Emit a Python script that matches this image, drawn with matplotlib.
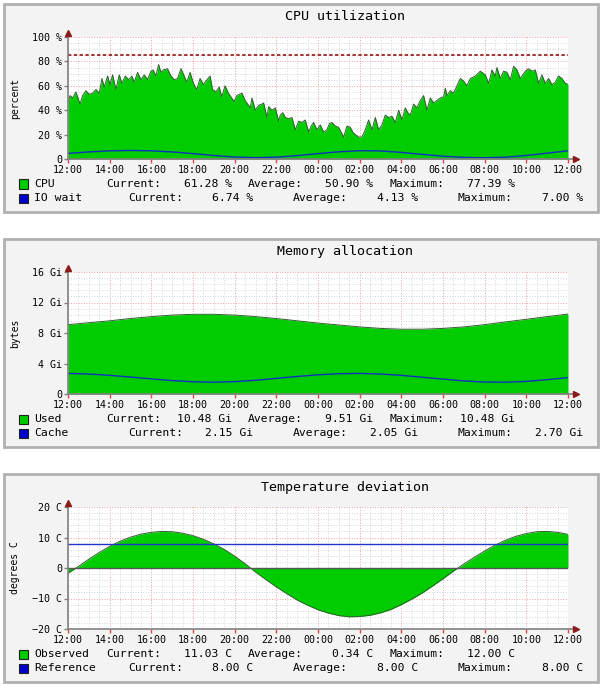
#!/usr/bin/env python3
"""plot.py: three rrdtool style graphs (cpu, memory, temperature)."""

import matplotlib
matplotlib.use('Agg')
import matplotlib.pyplot as plt
from matplotlib.patches import Rectangle
import numpy as np

W, H = 605, 690
FONT = 'DejaVu Sans Mono'
GREEN = '#00cc00'
BLUE = '#0000cc'

HOUR_LABELS = ['12:00', '14:00', '16:00', '18:00', '20:00', '22:00', '00:00',
               '02:00', '04:00', '06:00', '08:00', '10:00', '12:00']

# cpu samples, hours after 12:00
CPU_HOURS = [0.00, 0.10, 0.22, 0.38, 0.58, 0.70, 0.86, 1.02, 1.18, 1.34, 1.50,
             1.63, 1.74, 1.90, 2.02, 2.14, 2.30, 2.46, 2.59, 2.75, 2.91, 3.07,
             3.18, 3.34, 3.50, 3.66, 3.82, 3.98, 4.09, 4.22, 4.35, 4.46, 4.57,
             4.78, 4.94, 5.10, 5.26, 5.42, 5.58, 5.70, 5.86, 6.02, 6.18, 6.34,
             6.50, 6.62, 6.82, 6.94, 7.10, 7.26, 7.38, 7.54, 7.70, 7.86, 7.97,
             8.10, 8.35, 8.50, 8.75, 8.83, 8.99, 9.15, 9.31, 9.39, 9.55, 9.63,
             9.79, 9.95, 10.11, 10.19, 10.31, 10.43, 10.59, 10.75, 10.91, 11.07,
             11.23, 11.39, 11.55, 11.67, 11.79, 11.95, 12.11, 12.27, 12.43,
             12.55, 12.67, 12.83, 12.99, 13.11, 13.23, 13.39, 13.55, 13.67,
             13.79, 13.95, 14.11, 14.27, 14.43, 14.59, 14.75, 14.91, 15.07,
             15.23, 15.39, 15.55, 15.71, 15.87, 16.03, 16.19, 16.31, 16.43,
             16.59, 16.75, 16.91, 17.07, 17.23, 17.39, 17.55, 17.71, 17.87,
             18.03, 18.11, 18.19, 18.35, 18.51, 18.67, 18.83, 18.99, 19.15,
             19.31, 19.55, 19.79, 20.03, 20.19, 20.35, 20.51, 20.59, 20.75,
             20.91, 21.07, 21.23, 21.39, 21.55, 21.71, 21.95, 22.11, 22.27,
             22.43, 22.59, 22.75, 22.91, 23.07, 23.23, 23.39, 23.55, 23.71,
             23.87, 24.00]
CPU_PCT = [47, 52, 50, 55, 45, 52, 56, 53, 54, 57, 54,
           66, 59, 68, 61, 69, 57, 69, 62, 68, 65, 68,
           63, 71, 65, 69, 65, 72, 73, 68, 77.4, 71, 73,
           74, 68, 65, 66, 74, 68, 63, 71, 62, 57, 66,
           61, 64, 68, 57, 55, 59, 51, 60, 54, 50, 47,
           52, 54, 48, 42, 50, 40, 44, 45, 46, 34, 43,
           40, 42, 31, 36, 38, 34, 33, 34, 24, 31,
           30, 32, 22, 27, 30, 24, 28, 22, 24,
           29, 30, 27, 26, 22, 18, 27, 26, 22,
           20, 18, 18, 24, 32, 24, 34, 24, 28,
           36, 34, 35, 30, 40, 32, 42, 38, 36,
           45, 42, 48, 52, 40, 50, 46, 48, 50,
           51, 58, 52, 56, 54, 60, 66, 64, 60,
           66, 68, 72, 69, 62, 73, 68, 75, 66,
           72, 71, 65, 76, 73, 66, 72, 74, 72,
           73, 62, 69, 62, 66, 61, 63, 68, 66,
           62, 61.28]
CPU_LIMIT = 85

HOURS = list(range(25))
IO_WAIT = [4.6, 5.8, 6.7, 7.0, 6.7, 5.8, 4.4, 2.9, 1.6, 1.1, 1.5, 2.8, 4.4,
           5.9, 6.8, 6.6, 5.4, 3.8, 2.3, 1.3, 1.0, 1.5, 2.9, 4.8, 6.74]

MEM_USED = [9.1, 9.35, 9.6, 9.9, 10.15, 10.35, 10.45, 10.45, 10.35, 10.15, 9.9,
            9.6, 9.3, 9.05, 8.8, 8.6, 8.5, 8.5, 8.6, 8.8, 9.1, 9.45, 9.8,
            10.15, 10.48]
MEM_CACHE = [2.70, 2.62, 2.45, 2.22, 1.98, 1.76, 1.60, 1.55, 1.62, 1.80, 2.05,
             2.30, 2.52, 2.66, 2.70, 2.62, 2.45, 2.20, 1.95, 1.72, 1.57, 1.55,
             1.65, 1.88, 2.15]

TEMP_HOURS = [i * 0.5 for i in range(49)]
TEMP_OBS = [-1.7, 0.5, 2.9, 5.1, 7.1, 8.8, 10.1, 11.1, 11.7, 12.0, 11.9, 11.4,
            10.6, 9.4, 7.9, 6.1, 3.9, 1.4, -1.3, -3.8, -6.2, -8.4, -10.5, -12.2,
            -13.7, -14.8, -15.6, -16.0, -15.9, -15.5, -14.7, -13.6, -12.0, -10.2,
            -8.2, -5.9, -3.5, -1.0, 1.3, 3.5, 5.6, 7.5, 9.1, 10.4, 11.3, 11.9,
            12.0, 11.7, 11.03]
TEMP_REF = 8.0

CPU_LEGEND = [('CPU', '61.28 %', '50.90 %', '77.39 %'),
              ('IO wait', '6.74 %', '4.13 %', '7.00 %')]
MEM_LEGEND = [('Used', '10.48 Gi', '9.51 Gi', '10.48 Gi'),
              ('Cache', '2.15 Gi', '2.05 Gi', '2.70 Gi')]
TEMP_LEGEND = [('Observed', '11.03 C', '0.34 C', '12.00 C'),
               ('Reference', '8.00 C', '8.00 C', '8.00 C')]

# legend column pixel positions per row
CUR_L = [106, 128]
CUR_R = [232, 253]
AVG_L = [248, 293]
AVG_R = [373, 418]
MAX_L = [389, 458]
MAX_R = [515, 583]


def fx(x):
    return x / W


def fy(y):
    return 1.0 - y / H


def panel(fig, dy, title, ylabel, ymin, ymax, ystep, nminor, ylabels):
    fig.patches.append(Rectangle((fx(4), fy(212 + dy)), 594 / W, 208 / H,
                                 transform=fig.transFigure, facecolor='#f3f3f3',
                                 edgecolor='#b0b0b0', lw=2, zorder=-10))
    fig.text(fx(345), fy(17 + dy), title, family=FONT, size=9.6,
             ha='center', va='center')
    fig.text(fx(15), fy(98 + dy), ylabel, family=FONT, size=7, rotation=90,
             ha='center', va='center')

    ax = fig.add_axes([fx(68), fy(159 + dy), 500 / W, 122 / H])
    ax.set_zorder(1)
    ax.set_facecolor('white')
    ax.set_xlim(0, 24)
    ax.set_ylim(ymin, ymax)
    ax.set_xticks(np.arange(0, 25, 2))
    ax.set_xticks(np.arange(0, 24.01, 0.5), minor=True)
    ax.set_xticklabels(HOUR_LABELS)
    ax.set_yticks(np.arange(ymin, ymax + 0.01, ystep))
    ax.set_yticks(np.arange(ymin, ymax + 0.01, ystep / nminor), minor=True)
    ax.set_yticklabels(ylabels)
    ax.grid(which='minor', color='#d6d6d6', ls=':', lw=0.7)
    ax.grid(which='major', color='#f0a0a0', ls=':', lw=0.7)
    ax.set_axisbelow(True)
    for s in ax.spines.values():
        s.set_visible(False)
    ax.tick_params(which='minor', length=0)
    ax.tick_params(axis='x', which='major', length=3, width=1,
                   color='#e04848', pad=1.2, labelsize=7.2)
    ax.tick_params(axis='y', which='major', length=3, width=1,
                   color='#808080', pad=1.2, labelsize=7.2)
    for lab in ax.get_xticklabels() + ax.get_yticklabels():
        lab.set_family(FONT)

    # axis lines with rrdtool arrows
    ax.plot([0, 0], [0, 1.03], transform=ax.transAxes, color='#808080',
            lw=1.2, clip_on=False, zorder=6)
    ax.plot([0, 1.012], [0, 0], transform=ax.transAxes, color='#808080',
            lw=1.2, clip_on=False, zorder=6)
    ax.plot([0], [1.035], transform=ax.transAxes, marker='^', ms=4.5,
            color='#8b1a1a', clip_on=False, zorder=7)
    ax.plot([1.016], [0], transform=ax.transAxes, marker='>', ms=4.5,
            color='#8b1a1a', clip_on=False, zorder=7)
    return ax


def legend(fig, dy, rows, colors):
    for i, (name, cur, avg, mx) in enumerate(rows):
        yc = 184 + 14.3 * i + dy
        fig.patches.append(Rectangle((fx(19), fy(yc + 4.5)), 8.5 / W, 9 / H,
                                     transform=fig.transFigure,
                                     facecolor=colors[i], edgecolor='#202020',
                                     lw=0.8, zorder=3))
        kw = dict(family=FONT, size=8.2, va='center')
        fig.text(fx(34), fy(yc), name, ha='left', **kw)
        fig.text(fx(CUR_L[i]), fy(yc), 'Current:', ha='left', **kw)
        fig.text(fx(CUR_R[i]), fy(yc), cur, ha='right', **kw)
        fig.text(fx(AVG_L[i]), fy(yc), 'Average:', ha='left', **kw)
        fig.text(fx(AVG_R[i]), fy(yc), avg, ha='right', **kw)
        fig.text(fx(MAX_L[i]), fy(yc), 'Maximum:', ha='left', **kw)
        fig.text(fx(MAX_R[i]), fy(yc), mx, ha='right', **kw)


def create_figure():
    fig = plt.figure(figsize=(W / 100, H / 100), dpi=100)
    fig.patch.set_facecolor('white')

    # cpu
    ax = panel(fig, 0, 'CPU utilization', 'percent', 0, 100, 20, 4,
               ['0', '20 %', '40 %', '60 %', '80 %', '100 %'])
    ax.fill_between(CPU_HOURS, CPU_PCT, color=GREEN, lw=0, zorder=2)
    ax.plot(CPU_HOURS, CPU_PCT, color='#2f5f2f', lw=0.7, zorder=3)
    ax.plot(HOURS, IO_WAIT, color='#1030c0', lw=1.0, zorder=4)
    ax.axhline(CPU_LIMIT, color='#8b0000', lw=1.1, ls=(0, (2.2, 1.6)), zorder=4)
    legend(fig, 0, CPU_LEGEND, [GREEN, BLUE])

    # memory
    ax = panel(fig, 235, 'Memory allocation', 'bytes', 0, 16, 4, 5,
               ['0', '4 Gi', '8 Gi', '12 Gi', '16 Gi'])
    ax.fill_between(HOURS, MEM_USED, color=GREEN, lw=0, zorder=2)
    ax.plot(HOURS, MEM_USED, color='#2f5f2f', lw=0.7, zorder=3)
    ax.plot(HOURS, MEM_CACHE, color='#1030c0', lw=1.0, zorder=4)
    legend(fig, 235, MEM_LEGEND, [GREEN, BLUE])

    # temperature
    ax = panel(fig, 470, 'Temperature deviation', 'degrees C', -20, 20, 10, 5,
               ['\u221220 C', '\u221210 C', '0', '10 C', '20 C'])
    ax.fill_between(TEMP_HOURS, TEMP_OBS, color=GREEN, lw=0, zorder=2)
    ax.plot(TEMP_HOURS, TEMP_OBS, color='#2f5f2f', lw=0.7, zorder=3)
    ax.axhline(0, color='#555555', lw=1.0, zorder=4)
    ax.axhline(TEMP_REF, color='#2233cc', lw=1.0, zorder=4)
    legend(fig, 470, TEMP_LEGEND, [GREEN, BLUE])

    fig.savefig('out.png', dpi=100, facecolor='white')
    plt.close(fig)


def main():
    create_figure()


if __name__ == '__main__':
    main()
